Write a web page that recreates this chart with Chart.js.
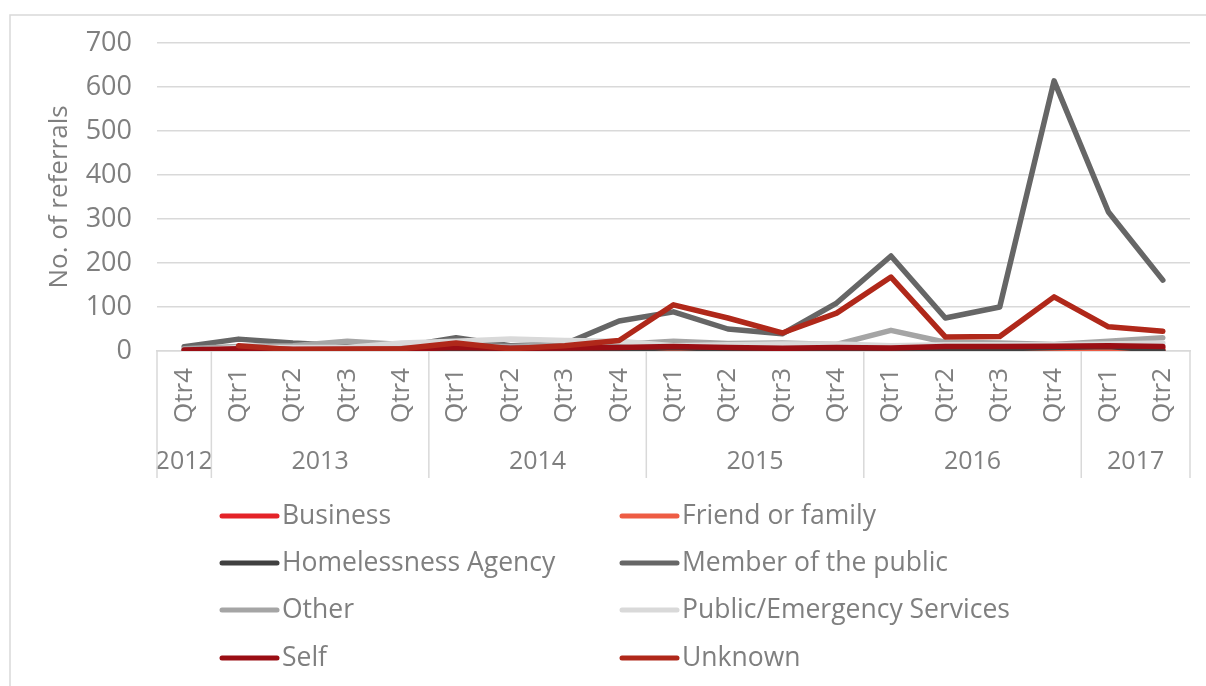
<!DOCTYPE html>
<html>
<head>
<meta charset="utf-8">
<script src="https://cdn.jsdelivr.net/npm/chart.js@4"></script>
<style>
  html, body { margin: 0; padding: 0; background: #fff; }
  #wrap { position: relative; width: 1206px; height: 686px; }
</style>
</head>
<body>
<div id="wrap"><canvas id="chart" width="1206" height="686"></canvas></div>
<script>
// quarter labels, grouped by year underneath
const quarters = ['Qtr4', 'Qtr1', 'Qtr2', 'Qtr3', 'Qtr4', 'Qtr1', 'Qtr2', 'Qtr3', 'Qtr4',
  'Qtr1', 'Qtr2', 'Qtr3', 'Qtr4', 'Qtr1', 'Qtr2', 'Qtr3', 'Qtr4', 'Qtr1', 'Qtr2'];
const years = ['2012', '2013', '2014', '2015', '2016', '2017'];
const quartersPerYear = [1, 4, 4, 4, 4, 2];

const yTicks = [0, 100, 200, 300, 400, 500, 600, 700];

const business = [0, 1, 0, 1, 0, 1, 0, 1, 2, 1, 2, 1, 1, 2, 1, 2, 1, 2, 1];
const friendOrFamily = [0, 2, 1, 2, 1, 3, 2, 2, 3, 4, 3, 3, 4, 5, 4, 5, 5, 6, 5];
const homelessnessAgency = [1, 4, 3, 5, 4, 6, 3, 5, 3, 8, 4, 0, 2, 5, 6, 5, 8, 10, 1];
const memberOfPublic = [10, 27, 18, 12, 10, 30, 12, 16, 68, 89, 50, 39, 109, 216, 75, 100, 614, 316, 161];
const other = [5, 10, 12, 22, 15, 12, 10, 15, 15, 22, 17, 18, 15, 47, 20, 18, 15, 22, 30];
const publicEmergency = [0, 8, 8, 8, 18, 22, 27, 24, 22, 12, 14, 16, 16, 12, 14, 14, 14, 16, 18];
const self = [2, 5, 4, 4, 4, 8, 6, 7, 8, 10, 8, 6, 8, 7, 10, 10, 11, 12, 10];
const unknown = [null, 12, 3, 4, 5, 18, 5, 12, 24, 105, 75, 41, 86, 168, 32, 33, 123, 55, 45];

const seriesNames = ['Business', 'Friend or family', 'Homelessness Agency', 'Member of the public',
  'Other', 'Public/Emergency Services', 'Self', 'Unknown'];
const seriesData = [business, friendOrFamily, homelessnessAgency, memberOfPublic,
  other, publicEmergency, self, unknown];
const seriesColors = ['#E42328', '#EE5C44', '#404040', '#666666',
  '#A5A5A5', '#D9D9D9', '#9A0E14', '#B0281A'];

const TEXT = '#7F7F7F';
const GRID = '#D9D9D9';
const FONT = "'Open Sans', sans-serif";

const datasets = seriesNames.map((name, i) => ({
  label: name,
  data: seriesData[i],
  borderColor: seriesColors[i],
  backgroundColor: seriesColors[i],
  borderWidth: 5.5,
  borderCapStyle: 'round',
  borderJoinStyle: 'round',
  pointRadius: 0,
  tension: 0,
  spanGaps: false,
  order: seriesNames.length - i // last series on top
}));

// frame, multi-level x axis and two-column legend
const decorations = {
  id: 'decorations',
  beforeDraw(chart) {
    const ctx = chart.ctx;
    ctx.save();
    ctx.strokeStyle = GRID;
    ctx.lineWidth = 1.5;
    ctx.beginPath();
    ctx.moveTo(10, 686);
    ctx.lineTo(10, 15);
    ctx.lineTo(1206, 15);
    ctx.stroke();
    ctx.restore();
  },
  afterDraw(chart) {
    const ctx = chart.ctx;
    const x = chart.scales.x;
    const area = chart.chartArea;
    ctx.save();

    // quarter labels, reading upwards
    ctx.fillStyle = TEXT;
    ctx.font = '26px ' + FONT;
    ctx.textAlign = 'right';
    ctx.textBaseline = 'middle';
    quarters.forEach((q, i) => {
      ctx.save();
      ctx.translate(x.getPixelForValue(i), area.bottom + 17);
      ctx.rotate(-Math.PI / 2);
      ctx.fillText(q, 0, 0);
      ctx.restore();
    });

    // year groups with separators
    const half = (x.getPixelForValue(1) - x.getPixelForValue(0)) / 2;
    ctx.strokeStyle = GRID;
    ctx.lineWidth = 1.5;
    ctx.font = '25px ' + FONT;
    ctx.textAlign = 'center';
    let start = 0;
    const edges = [area.left];
    years.forEach((y, k) => {
      const end = start + quartersPerYear[k] - 1;
      const left = x.getPixelForValue(start) - half;
      const right = x.getPixelForValue(end) + half;
      ctx.fillText(y, (left + right) / 2, area.bottom + 111);
      edges.push(right);
      start = end + 1;
    });
    ctx.beginPath();
    edges.forEach(e => {
      ctx.moveTo(e, area.bottom);
      ctx.lineTo(e, area.bottom + 127);
    });
    ctx.stroke();

    // legend
    const colX = [222, 622];
    const rowY = [516, 563, 610, 658];
    ctx.font = '26.5px ' + FONT;
    ctx.textAlign = 'left';
    ctx.lineCap = 'round';
    ctx.lineWidth = 5;
    chart.data.datasets.forEach((ds, i) => {
      const lx = colX[i % 2];
      const ly = rowY[Math.floor(i / 2)];
      ctx.strokeStyle = ds.borderColor;
      ctx.beginPath();
      ctx.moveTo(lx, ly);
      ctx.lineTo(lx + 55, ly);
      ctx.stroke();
      ctx.fillStyle = TEXT;
      ctx.fillText(ds.label, lx + 60, ly);
    });
    ctx.restore();
  }
};

new Chart(document.getElementById('chart').getContext('2d'), {
  type: 'line',
  data: { labels: quarters, datasets },
  options: {
    responsive: false,
    animation: false,
    layout: { padding: { top: 43, right: 16, left: 0, bottom: 0 } },
    plugins: { legend: { display: false }, tooltip: { enabled: false } },
    scales: {
      x: {
        offset: true,
        grid: { display: false },
        border: { color: GRID, width: 1.5 },
        ticks: { display: false },
        afterFit(s) { s.height = 686 - 351; }
      },
      y: {
        min: 0,
        max: 700,
        afterBuildTicks(s) { s.ticks = yTicks.map(v => ({ value: v })); },
        grid: { color: GRID, lineWidth: 1.5, drawTicks: false },
        border: { display: false },
        ticks: { color: TEXT, font: { family: FONT, size: 27 }, padding: 25 },
        title: {
          display: true,
          text: 'No. of referrals',
          color: TEXT,
          font: { family: FONT, size: 26 },
          padding: { top: 44, bottom: 0 }
        },
        afterFit(s) { s.width = 157; }
      }
    }
  },
  plugins: [decorations]
});
</script>
</body>
</html>
